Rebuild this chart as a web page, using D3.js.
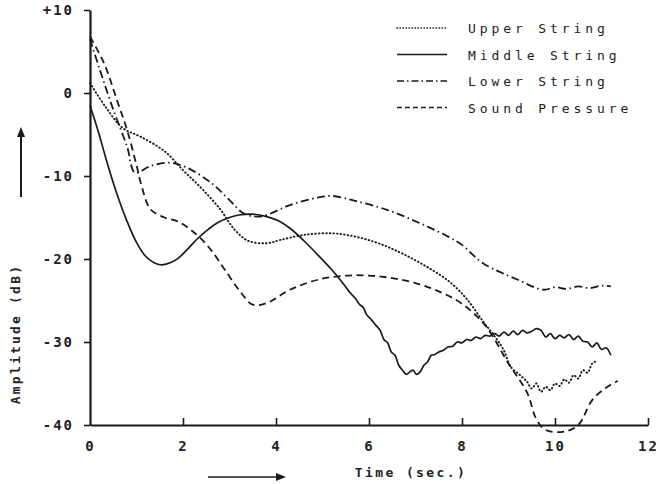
<!DOCTYPE html>
<html>
<head>
<meta charset="utf-8">
<script src="https://cdn.jsdelivr.net/npm/d3@7"></script>
<style>
  body { margin: 0; background: #fff; }
  svg { display: block; }
  .mono { font-family: "DejaVu Sans Mono", "Liberation Mono", monospace; fill: #222; }
</style>
</head>
<body>
<div id="chart"></div>
<script>
// Decay of string amplitude and sound pressure over time

const seriesNames = ['Upper String', 'Middle String', 'Lower String', 'Sound Pressure'];

// [time (s), amplitude (dB)]
const upperString = [
  [0, 1.2], [0.35, -1.8], [0.7, -4.2], [1.1, -5.3], [1.6, -7.0], [2.0, -9.3], [2.4, -11.5],
  [2.8, -14.0], [3.1, -16.4], [3.4, -17.8], [3.8, -18.1], [4.1, -17.7], [4.6, -17.1],
  [5.2, -16.9], [5.7, -17.3], [6.2, -18.1], [6.7, -19.3], [7.2, -20.8], [7.7, -22.6],
  [8.1, -24.8], [8.45, -27.5], [8.7, -29.3], [8.9, -31.0], [9.05, -33.0], [9.25, -34.0],
  [9.4, -34.8], [9.5, -35.6], [9.6, -35.0], [9.7, -36.0], [9.8, -35.4], [9.9, -35.8],
  [10.0, -35.0], [10.1, -35.3], [10.2, -34.5], [10.3, -34.9], [10.4, -34.0], [10.5, -34.4],
  [10.6, -33.4], [10.7, -33.7], [10.8, -32.6], [10.9, -32.3]
];

const middleString = [
  [0, -1.5], [0.17, -4.5], [0.4, -9.0], [0.6, -12.5], [0.8, -15.5], [1.0, -18.0], [1.2, -19.7],
  [1.4, -20.5], [1.55, -20.7], [1.75, -20.4], [1.9, -19.9], [2.1, -18.8], [2.32, -17.5],
  [2.55, -16.4], [2.75, -15.6], [3.0, -15.0], [3.2, -14.7], [3.5, -14.6], [3.8, -14.9],
  [4.05, -15.4], [4.3, -16.3], [4.6, -17.8], [4.95, -19.8], [5.2, -21.3], [5.38, -22.5],
  [5.6, -24.1], [5.7, -24.7], [5.8, -25.5], [5.87, -25.8], [5.95, -26.7], [6.05, -27.3],
  [6.15, -28.0], [6.24, -28.6], [6.32, -29.7], [6.4, -30.1], [6.48, -31.2], [6.56, -31.6],
  [6.64, -32.8], [6.72, -33.4], [6.8, -33.9], [6.88, -33.6], [6.95, -33.4], [7.02, -33.9],
  [7.1, -33.6], [7.18, -32.8], [7.26, -32.4], [7.34, -31.6], [7.42, -31.5], [7.5, -31.2],
  [7.6, -31.0], [7.7, -30.6], [7.8, -30.5], [7.9, -30.0], [8.0, -30.1], [8.1, -29.7],
  [8.2, -29.8], [8.3, -29.4], [8.4, -29.6], [8.5, -29.2], [8.6, -29.3], [8.7, -29.0],
  [8.8, -29.3], [8.9, -28.8], [9.0, -29.2], [9.1, -28.7], [9.2, -29.1], [9.3, -28.6],
  [9.4, -28.9], [9.5, -28.7], [9.6, -28.4], [9.7, -28.6], [9.8, -29.4], [9.9, -29.0],
  [10.0, -29.6], [10.1, -29.2], [10.2, -29.5], [10.3, -29.1], [10.4, -29.7], [10.5, -29.3],
  [10.6, -29.9], [10.7, -30.0], [10.8, -30.6], [10.9, -30.1], [11.0, -30.9], [11.1, -30.7],
  [11.2, -31.6]
];

const lowerString = [
  [0, 6.5], [0.2, 3.0], [0.5, -2.0], [0.8, -6.5], [0.97, -9.6], [1.3, -8.8], [1.7, -8.4],
  [2.05, -8.9], [2.6, -10.8], [3.0, -12.9], [3.3, -14.5], [3.6, -14.9], [3.8, -14.7],
  [4.3, -13.5], [4.9, -12.6], [5.2, -12.4], [5.7, -13.0], [6.4, -14.1], [7.1, -15.7],
  [7.7, -17.3], [8.0, -18.3], [8.45, -20.5], [9.2, -22.5], [9.75, -23.7], [10.0, -23.4],
  [10.25, -23.6], [10.5, -23.3], [10.75, -23.5], [11.0, -23.2], [11.2, -23.3]
];

const soundPressure = [
  [0, 6.8], [0.3, 3.6], [0.6, -1.2], [0.8, -4.5], [1.0, -8.7], [1.1, -11.0], [1.3, -14.0],
  [1.6, -15.0], [1.9, -15.5], [2.3, -17.1], [2.6, -18.9], [2.9, -21.3], [3.2, -23.7],
  [3.5, -25.5], [3.8, -25.3], [4.3, -23.7], [4.9, -22.5], [5.5, -22.0], [6.0, -22.0],
  [6.5, -22.3], [7.0, -22.9], [7.5, -23.9], [8.0, -25.4], [8.5, -28.0], [9.0, -32.6],
  [9.4, -36.1], [9.6, -39.3], [9.8, -40.6], [10.2, -40.8], [10.5, -40.0], [10.8, -37.0],
  [11.1, -35.5], [11.35, -34.7]
];

const xTicks = [0, 2, 4, 6, 8, 10, 12];
const yTicks = [10, 0, -10, -20, -30, -40];

const width = 659;
const height = 484;

const svg = d3.select('#chart')
    .append('svg')
    .attr('width', width)
    .attr('height', height);

const x = d3.scaleLinear().domain([0, 12]).range([90, 648]);
const y = d3.scaleLinear().domain([-40, 10]).range([425, 10]);

const ink = '#1a1a1a';

// Axes
const xAxis = svg.append('g')
    .attr('transform', `translate(0, ${y(-40)})`)
    .call(d3.axisBottom(x).tickValues(xTicks).tickSizeInner(-7).tickSizeOuter(0).tickPadding(16));

const yAxis = svg.append('g')
    .attr('transform', `translate(${x(0)}, 0)`)
    .call(d3.axisLeft(y).tickValues(yTicks).tickSizeInner(6).tickSizeOuter(0).tickPadding(10)
        .tickFormat(d => d > 0 ? '+' + d : String(d)));

[xAxis, yAxis].forEach(ax => {
    ax.selectAll('.domain').attr('stroke', ink).attr('stroke-width', 2.2);
    ax.selectAll('.tick line').attr('stroke', ink).attr('stroke-width', 1.6);
    ax.selectAll('.tick text')
        .attr('class', 'mono')
        .attr('font-size', 14)
        .attr('font-weight', 'bold')
        .attr('letter-spacing', 2)
        .attr('fill', '#222');
});
xAxis.select('.tick:first-of-type line').remove();

// Curves
const line = d3.line()
    .x(d => x(d[0]))
    .y(d => y(d[1]))
    .curve(d3.curveCatmullRom.alpha(0.5));

const styles = [
    { data: upperString, dash: '0.6,3', width: 1.9, cap: 'round' },
    { data: middleString, dash: null, width: 1.7, cap: 'butt' },
    { data: lowerString, dash: '8,3.5,1.5,3.5', width: 1.8, cap: 'butt' },
    { data: soundPressure, dash: '7,4.5', width: 1.8, cap: 'butt' }
];

styles.forEach(s => {
    svg.append('path')
        .datum(s.data)
        .attr('d', line)
        .attr('fill', 'none')
        .attr('stroke', ink)
        .attr('stroke-width', s.width)
        .attr('stroke-linecap', s.cap)
        .attr('stroke-dasharray', s.dash);
});

// Legend
const legend = svg.append('g').attr('transform', 'translate(397, 28)');
seriesNames.forEach((name, i) => {
    const s = styles[i];
    const row = legend.append('g').attr('transform', `translate(0, ${i * 26.5})`);
    row.append('line')
        .attr('x1', 0).attr('x2', 50).attr('y1', 0).attr('y2', 0)
        .attr('stroke', ink)
        .attr('stroke-width', i === 0 ? 1.4 : 1.5)
        .attr('stroke-linecap', s.cap)
        .attr('stroke-dasharray', i === 0 ? '0.5,2.5' : (i === 2 ? '7,3,1.5,3' : (i === 3 ? '5,3' : null)));
    row.append('text')
        .attr('class', 'mono')
        .attr('x', 71)
        .attr('y', 5)
        .attr('font-size', 13)
        .attr('letter-spacing', 3.9)
        .text(name);
});

// Axis titles
svg.append('text')
    .attr('class', 'mono')
    .attr('x', 411)
    .attr('y', 477)
    .attr('text-anchor', 'middle')
    .attr('font-size', 13)
    .attr('font-weight', 'bold')
    .attr('letter-spacing', 2.4)
    .text('Time (sec.)');

svg.append('text')
    .attr('class', 'mono')
    .attr('transform', 'translate(20, 334) rotate(-90)')
    .attr('text-anchor', 'middle')
    .attr('font-size', 13)
    .attr('font-weight', 'bold')
    .attr('letter-spacing', 2.2)
    .text('Amplitude (dB)');

// Arrows next to axis titles
const arrowHead = (g, x0, y0, dir) => {
    const pts = dir === 'up'
        ? [[x0, y0], [x0 - 4, y0 + 10], [x0 + 4, y0 + 10]]
        : [[x0, y0], [x0 - 10, y0 - 4], [x0 - 10, y0 + 4]];
    g.append('path')
        .attr('d', 'M' + pts.map(p => p.join(',')).join('L') + 'Z')
        .attr('fill', ink);
};

svg.append('line')
    .attr('x1', 21).attr('x2', 21).attr('y1', 197).attr('y2', 134)
    .attr('stroke', ink).attr('stroke-width', 2);
arrowHead(svg, 21, 127, 'up');

svg.append('line')
    .attr('x1', 208).attr('x2', 278).attr('y1', 477).attr('y2', 477)
    .attr('stroke', ink).attr('stroke-width', 1.6);
arrowHead(svg, 286, 477, 'right');
</script>
</body>
</html>
